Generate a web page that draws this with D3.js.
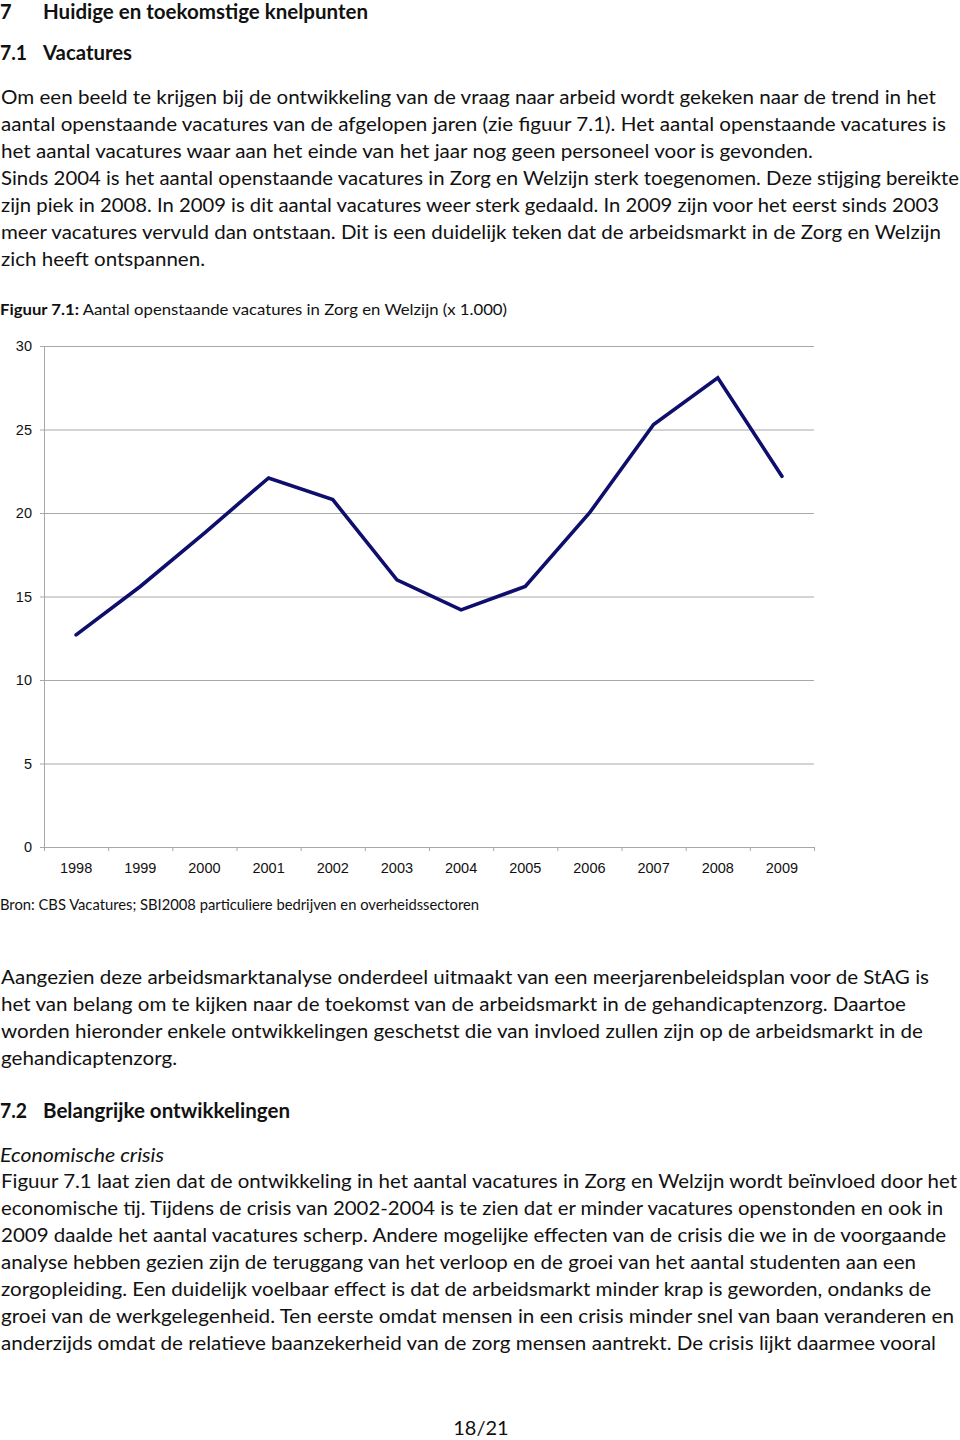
<!DOCTYPE html>
<html>
<head>
<meta charset="utf-8">
<script src="https://cdn.jsdelivr.net/npm/d3@7"></script>
<style>
  html, body { margin: 0; padding: 0; background: #fff; }
  svg { display: block; }
  .body { font-family: Lato, "Open Sans", sans-serif; font-size: 19.5px; fill: #111; }
  .axis text { font-family: "Liberation Sans", Arial, sans-serif; font-size: 14.5px; fill: #111; }
</style>
</head>
<body>
<svg id="page" width="960" height="1440"></svg>
<script>
// ---------- chart data ----------
const years = ["1998","1999","2000","2001","2002","2003","2004","2005","2006","2007","2008","2009"];
const vacatures = [12.7, 15.6, 18.8, 22.1, 20.8, 16.0, 14.2, 15.6, 20.0, 25.3, 28.1, 22.2];
const yTicks = [0, 5, 10, 15, 20, 25, 30];

// ---------- page text ----------
const para1 = [
  "Om een beeld te krijgen bij de ontwikkeling van de vraag naar arbeid wordt gekeken naar de trend in het",
  "aantal openstaande vacatures van de afgelopen jaren (zie figuur 7.1). Het aantal openstaande vacatures is",
  "het aantal vacatures waar aan het einde van het jaar nog geen personeel voor is gevonden.",
  "Sinds 2004 is het aantal openstaande vacatures in Zorg en Welzijn sterk toegenomen. Deze stijging bereikte",
  "zijn piek in 2008. In 2009 is dit aantal vacatures weer sterk gedaald. In 2009 zijn voor het eerst sinds 2003",
  "meer vacatures vervuld dan ontstaan. Dit is een duidelijk teken dat de arbeidsmarkt in de Zorg en Welzijn",
  "zich heeft ontspannen."
];
const para2 = [
  "Aangezien deze arbeidsmarktanalyse onderdeel uitmaakt van een meerjarenbeleidsplan voor de StAG is",
  "het van belang om te kijken naar de toekomst van de arbeidsmarkt in de gehandicaptenzorg. Daartoe",
  "worden hieronder enkele ontwikkelingen geschetst die van invloed zullen zijn op de arbeidsmarkt in de",
  "gehandicaptenzorg."
];
const para3 = [
  "Figuur 7.1 laat zien dat de ontwikkeling in het aantal vacatures in Zorg en Welzijn wordt beïnvloed door het",
  "economische tij. Tijdens de crisis van 2002-2004 is te zien dat er minder vacatures openstonden en ook in",
  "2009 daalde het aantal vacatures scherp. Andere mogelijke effecten van de crisis die we in de voorgaande",
  "analyse hebben gezien zijn de teruggang van het verloop en de groei van het aantal studenten aan een",
  "zorgopleiding. Een duidelijk voelbaar effect is dat de arbeidsmarkt minder krap is geworden, ondanks de",
  "groei van de werkgelegenheid. Ten eerste omdat mensen in een crisis minder snel van baan veranderen en",
  "anderzijds omdat de relatieve baanzekerheid van de zorg mensen aantrekt. De crisis lijkt daarmee vooral"
];

// ---------- layout (line widths measured from the page) ----------
const layout = {
  lineH: 27,
  p1: { y: 104, w: [935, 945, 812, 958, 938, 940, 204] },
  p2: { y: 984, w: [928, 905, 922, 176] },
  p3: { y: 1188, w: [956, 942, 945, 915, 930, 953, 935] }
};

const svg = d3.select("#page");

function paragraph(lines, cfg) {
  svg.append("g").selectAll("text").data(lines).join("text")
    .attr("class", "body")
    .attr("x", 1)
    .attr("y", (d, i) => cfg.y + i * layout.lineH)
    .attr("textLength", (d, i) => cfg.w[i])
    .attr("lengthAdjust", "spacingAndGlyphs")
    .text(d => d);
}

function heading(num, title, y, w) {
  const g = svg.append("g").attr("class", "body").style("font-weight", "bold").style("font-size", "20px");
  g.append("text").attr("x", 0).attr("y", y).text(num)
    .attr("textLength", num.length > 1 ? 27 : null).attr("lengthAdjust", "spacingAndGlyphs");
  g.append("text").attr("x", 43).attr("y", y).attr("textLength", w)
    .attr("lengthAdjust", "spacingAndGlyphs").text(title);
}

heading("7", "Huidige en toekomstige knelpunten", 19, 325);
heading("7.1", "Vacatures", 60, 89);
paragraph(para1, layout.p1);

// caption
const cap = svg.append("text").attr("class", "body").attr("x", 0).attr("y", 315)
  .style("font-size", "16px").attr("textLength", 507).attr("lengthAdjust", "spacingAndGlyphs");
cap.append("tspan").style("font-weight", "bold").text("Figuur 7.1:");
cap.append("tspan").text(" Aantal openstaande vacatures in Zorg en Welzijn (x 1.000)");

// ---------- chart ----------
const x = d3.scaleBand().domain(years).range([44, 814]);
const xEdges = d3.scaleLinear().domain([0, years.length]).range([44, 814]);
const y = d3.scaleLinear().domain([0, 30]).range([847, 346]);
const gridColor = "#a8a8a8";

// gridlines
const grid = svg.append("g").attr("transform", `translate(${xEdges.range()[0]},0)`)
  .call(d3.axisLeft(y).tickValues(yTicks.filter(v => v > 0)).tickSize(-(xEdges.range()[1] - xEdges.range()[0])).tickFormat(""));
grid.select(".domain").remove();
grid.selectAll("line").attr("stroke", gridColor);

// x axis tick marks at category boundaries
const xTickAxis = svg.append("g").attr("transform", `translate(0,${y(0)})`)
  .call(d3.axisBottom(xEdges).tickValues(d3.range(0, years.length + 1)).tickSize(4).tickSizeOuter(0).tickFormat(""));
xTickAxis.select(".domain").attr("stroke", gridColor);
xTickAxis.selectAll("line").attr("stroke", gridColor);

// x axis labels
const xAxis = svg.append("g").attr("class", "axis").attr("transform", `translate(0,${y(0)})`)
  .call(d3.axisBottom(x).tickSize(0).tickPadding(16));
xAxis.select(".domain").remove();
xAxis.selectAll("text").attr("fill", "#111");

// y axis
const yAxis = svg.append("g").attr("class", "axis").attr("transform", `translate(${xEdges.range()[0]},0)`)
  .call(d3.axisLeft(y).tickValues(yTicks).tickSize(4).tickSizeOuter(0).tickPadding(8));
yAxis.select(".domain").attr("stroke", gridColor);
yAxis.selectAll("line").attr("stroke", gridColor);
yAxis.selectAll("text").attr("fill", "#111");

// series line
const line = d3.line()
  .x((d, i) => x(years[i]) + x.bandwidth() / 2)
  .y(d => y(d));
svg.append("path").datum(vacatures)
  .attr("d", line)
  .attr("fill", "none")
  .attr("stroke", "#0e0e6c")
  .attr("stroke-width", 3.6)
  .attr("stroke-linecap", "round")
  .attr("stroke-linejoin", "miter");

// source
svg.append("text").attr("class", "body").attr("x", 0).attr("y", 910)
  .style("font-size", "15px").attr("textLength", 479).attr("lengthAdjust", "spacingAndGlyphs")
  .text("Bron: CBS Vacatures; SBI2008 particuliere bedrijven en overheidssectoren");

// ---------- rest of page ----------
paragraph(para2, layout.p2);
heading("7.2", "Belangrijke ontwikkelingen", 1118, 247);
svg.append("text").attr("class", "body").attr("x", 0).attr("y", 1162)
  .style("font-style", "italic").attr("textLength", 164).attr("lengthAdjust", "spacingAndGlyphs")
  .text("Economische crisis");
paragraph(para3, layout.p3);

svg.append("text").attr("class", "body").attr("x", 481).attr("y", 1435)
  .attr("text-anchor", "middle").style("font-size", "20px")
  .text("18/21");
</script>
</body>
</html>
